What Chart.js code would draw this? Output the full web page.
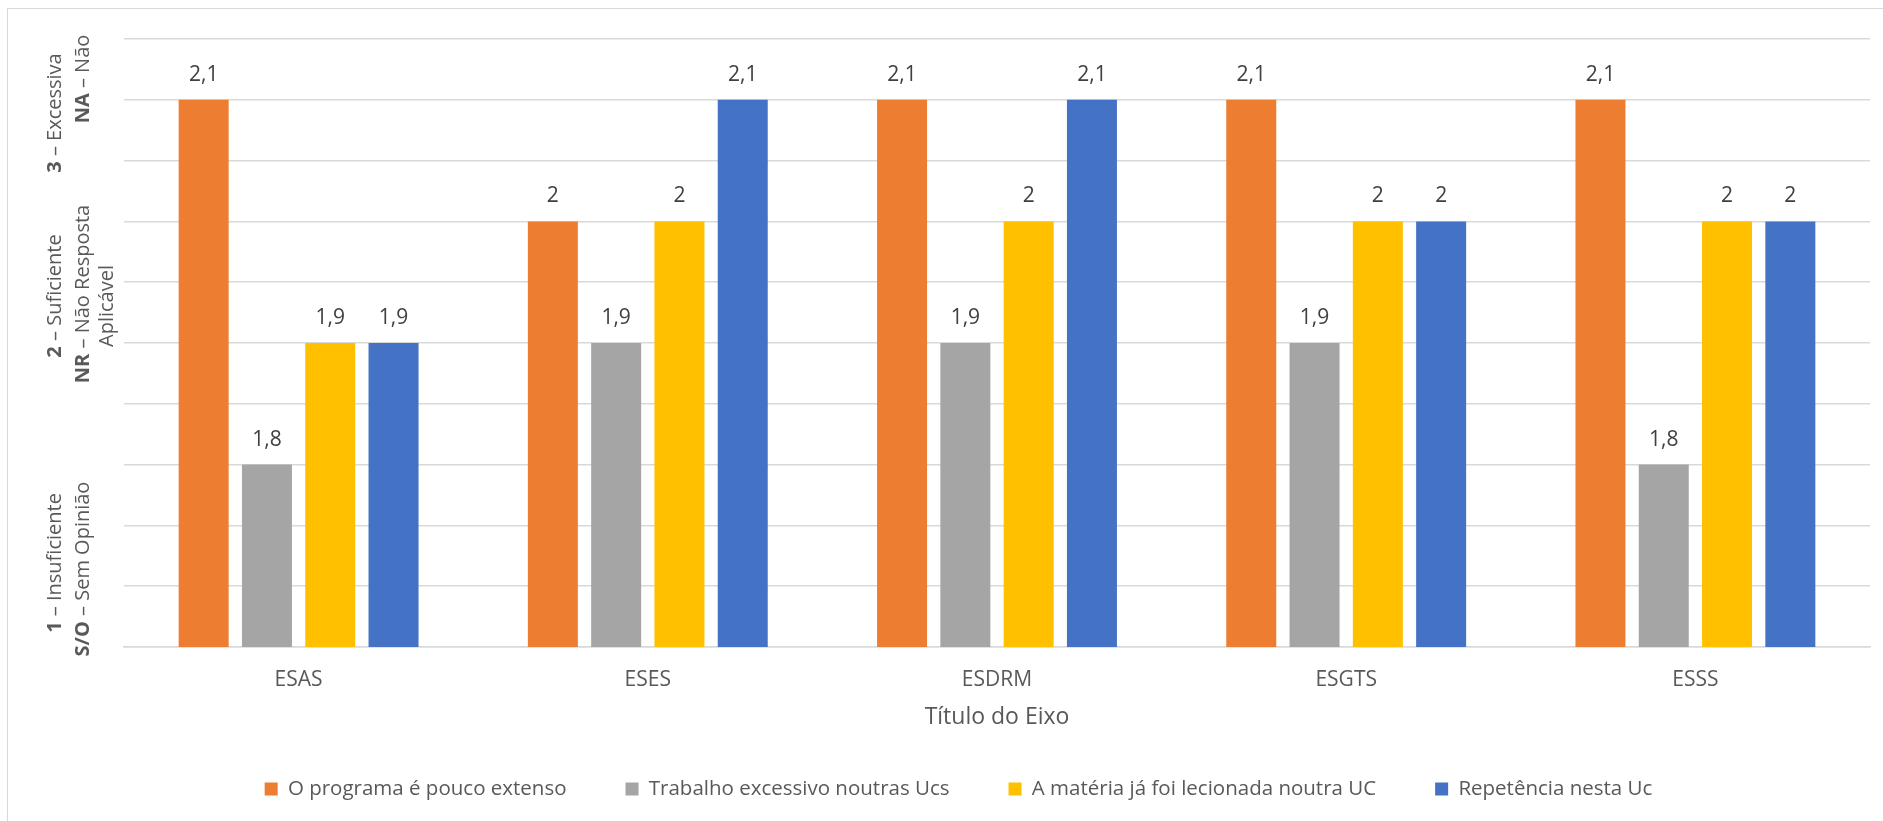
<!DOCTYPE html>
<html>
<head>
<meta charset="utf-8">
<script src="https://cdn.jsdelivr.net/npm/chart.js@4"></script>
<style>
  html, body { margin: 0; padding: 0; background: #fff; overflow: hidden; }
  #frame { position: absolute; left: 7px; top: 8px; width: 2000px; height: 1000px; border: 1.5px solid #d9d9d9; }
  #wrap { position: absolute; left: 0; top: 0; width: 1883px; height: 821px; }
</style>
</head>
<body>
<div id="frame"></div>
<div id="wrap"><canvas id="chart"></canvas></div>
<script>
// categories and series
const categories = ['ESAS', 'ESES', 'ESDRM', 'ESGTS', 'ESSS'];
const seriesNames = [
    'O programa é pouco extenso',
    'Trabalho excessivo noutras Ucs',
    'A matéria já foi lecionada noutra UC',
    'Repetência nesta Uc'
];
const programaPoucoExtenso = [2.1, 2, 2.1, 2.1, 2.1];
const trabalhoExcessivo = [1.8, 1.9, 1.9, 1.9, 1.8];
const materiaLecionada = [1.9, 2, 2, 2, 2];
const repetencia = [1.9, 2.1, 2.1, 2, 2];
const seriesColors = ['#ED7D31', '#A5A5A5', '#FFC000', '#4472C4'];

const xAxisTitle = 'Título do Eixo';
// scale text on the left: [bold part, rest]
const sideLabelLines = [
    ['3', ' – Excessiva'],
    ['NA', ' – Não'],
    ['2', ' – Suficiente'],
    ['NR', ' – Não Resposta'],
    ['', 'Aplicável'],
    ['1', ' – Insuficiente'],
    ['S/O', ' – Sem Opinião']
];
// where each of those lines sits (x of column, y of its middle)
const sideLabelPos = [
    [55, 113], [83, 79],
    [55, 296], [83, 294], [107, 306],
    [55, 563], [83, 569]
];

const FONT = '"Open Sans", sans-serif';
const allSeries = [programaPoucoExtenso, trabalhoExcessivo, materiaLecionada, repetencia];

const valueLabels = {
    id: 'valueLabels',
    afterDatasetsDraw(chart) {
        const ctx = chart.ctx;
        ctx.save();
        ctx.font = '21px ' + FONT;
        ctx.fillStyle = '#404040';
        ctx.textAlign = 'center';
        ctx.textBaseline = 'middle';
        chart.data.datasets.forEach((ds, i) => {
            chart.getDatasetMeta(i).data.forEach((bar, j) => {
                ctx.fillText(String(ds.data[j]).replace('.', ','), bar.x, bar.y - 25);
            });
        });
        ctx.restore();
    }
};

const sideLabels = {
    id: 'sideLabels',
    afterDraw(chart) {
        const ctx = chart.ctx;
        ctx.save();
        ctx.fillStyle = '#595959';
        ctx.textBaseline = 'middle';
        ctx.textAlign = 'left';
        sideLabelLines.forEach((line, i) => {
            const [x, y] = sideLabelPos[i];
            ctx.font = 'bold 20px ' + FONT;
            const bw = ctx.measureText(line[0]).width;
            ctx.font = '20px ' + FONT;
            const nw = ctx.measureText(line[1]).width;
            ctx.save();
            ctx.translate(x, y);
            ctx.rotate(-Math.PI / 2);
            let start = -(bw + nw) / 2;
            ctx.font = 'bold 20px ' + FONT;
            ctx.fillText(line[0], start, 0);
            ctx.font = '20px ' + FONT;
            ctx.fillText(line[1], start + bw, 0);
            ctx.restore();
        });
        ctx.restore();
    }
};

new Chart(document.getElementById('chart'), {
    type: 'bar',
    data: {
        labels: categories,
        datasets: allSeries.map((vals, i) => ({
            label: seriesNames[i],
            data: vals,
            backgroundColor: seriesColors[i],
            categoryPercentage: 0.725,
            barPercentage: 0.79
        }))
    },
    options: {
        responsive: true,
        maintainAspectRatio: false,
        animation: false,
        layout: { padding: { left: 47, right: 13, top: 39, bottom: 11.75 } },
        scales: {
            x: {
                grid: { display: false },
                border: { display: true, color: '#d9d9d9', width: 1.5 },
                ticks: { color: '#595959', font: { family: FONT, size: 21 }, padding: 12 },
                title: {
                    display: true,
                    text: xAxisTitle,
                    color: '#595959',
                    font: { family: FONT, size: 23 },
                    padding: { top: 0, bottom: -12 }
                },
                afterFit(scale) { scale.height = 72.75; }
            },
            y: {
                min: 1.65,
                max: 2.15,
                ticks: { display: false, count: 11 },
                grid: { color: '#d9d9d9', lineWidth: 1.5, drawTicks: false },
                border: { display: false },
                afterFit(scale) { scale.width = 77; }
            }
        },
        plugins: {
            legend: {
                position: 'bottom',
                labels: {
                    color: '#595959',
                    font: { family: FONT, size: 20.5 },
                    boxWidth: 13,
                    boxHeight: 13,
                    padding: 59
                }
            },
            tooltip: { enabled: false }
        }
    },
    plugins: [valueLabels, sideLabels]
});
</script>
</body>
</html>
